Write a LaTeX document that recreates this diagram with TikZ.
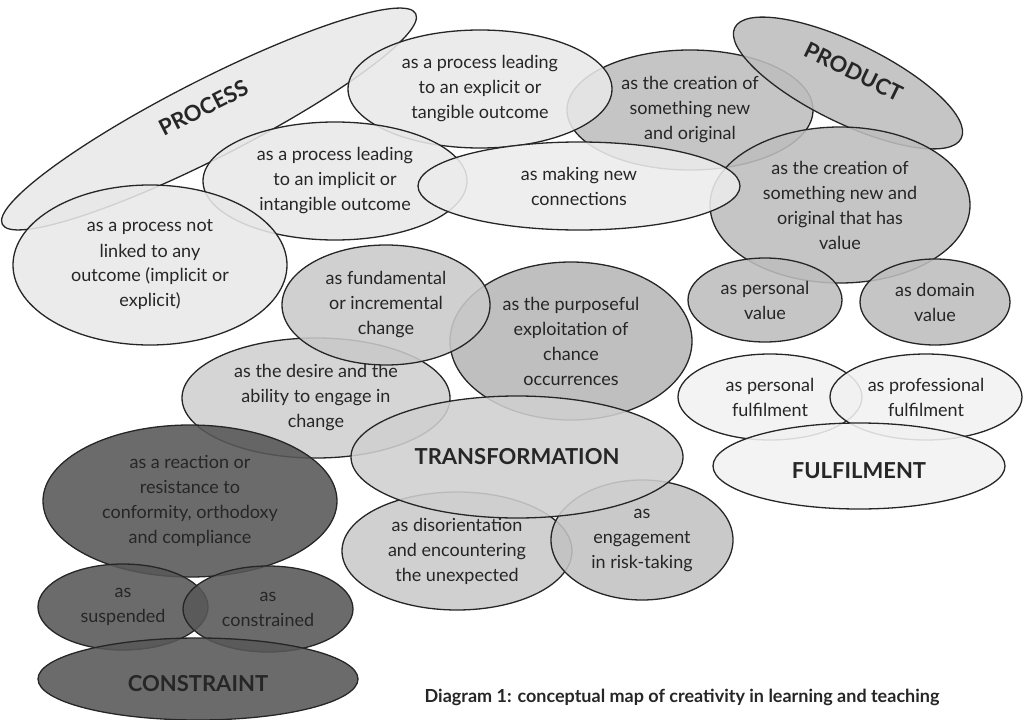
\documentclass[tikz,border=0pt]{standalone}
\usepackage{fontspec}
\setmainfont{Lato}
\usetikzlibrary{shapes.geometric}
\definecolor{processgrey}{gray}{0.91}
\definecolor{connectgrey}{gray}{0.925}
\definecolor{productgrey}{gray}{0.74}
\definecolor{valuegrey}{gray}{0.74}
\definecolor{fulfilgrey}{gray}{0.945}
\definecolor{purposegrey}{gray}{0.715}
\definecolor{changegrey}{gray}{0.79}
\definecolor{desiregrey}{gray}{0.81}
\definecolor{transgrey}{gray}{0.81}
\definecolor{riskgrey}{gray}{0.76}
\definecolor{constraintgrey}{gray}{0.34}

\tikzset{
  blob/.style={ellipse,draw=black!85,line width=1.3pt,fill opacity=0.88,text opacity=1,
    align=center,inner sep=0pt,text=black!85,font=\fontsize{18}{25}\selectfont},
  heading/.style={blob,font=\fontsize{22}{25}\selectfont\bfseries},
}

\begin{document}
\begin{tikzpicture}[x=1pt,y=-1pt]
\useasboundingbox (0,0) rectangle (1028,720);

% process and product
\node[blob,fill=productgrey,minimum width=246pt,minimum height=120pt] (neworig) at (690,110) {as the creation of\\something new\\and original};
\node[heading,fill=processgrey,minimum width=464pt,minimum height=78pt,rotate=27] (process) at (209,119) {PROCESS\\~};
\node[blob,fill=processgrey,minimum width=264pt,minimum height=118pt] (explicit) at (480,89) {as a process leading\\to an explicit or\\tangible outcome};
\node[heading,fill=productgrey,minimum width=252pt,minimum height=80pt,rotate=-26] (product) at (848,83) {PRODUCT\\~};
\node[blob,fill=productgrey,minimum width=260pt,minimum height=156pt] (hasvalue) at (840,205) {as the creation of\\something new and\\original that has\\value};
\node[blob,fill=processgrey,minimum width=264pt,minimum height=118pt] (implicit) at (335,181) {as a process leading\\to an implicit or\\intangible outcome};
\node[blob,fill=connectgrey,minimum width=322pt,minimum height=88pt] (connect) at (579,186) {as making new\\connections};
\node[blob,fill=processgrey,minimum width=274pt,minimum height=160pt] (nooutcome) at (150,265) {as a process not\\linked to any\\outcome (implicit or\\explicit)};
\node[blob,fill=valuegrey,minimum width=154pt,minimum height=84pt] (persvalue) at (765,300) {as personal\\value};
\node[blob,fill=valuegrey,minimum width=150pt,minimum height=86pt] (domvalue) at (935,302) {as domain\\value};

% transformation
\node[blob,fill=purposegrey,minimum width=242pt,minimum height=158pt] (purpose) at (571,341) {as the purposeful\\exploitation of\\chance\\occurrences};
\node[blob,fill=desiregrey,minimum width=268pt,minimum height=120pt] (desire) at (316,398) {as the desire and the\\ability to engage in\\change};
\node[blob,fill=changegrey,minimum width=208pt,minimum height=120pt] (fundamental) at (386,305) {as fundamental\\or incremental\\change};
\node[blob,fill=changegrey,minimum width=230pt,minimum height=118pt] (disorient) at (457,551) {as disorientation\\and encountering\\the unexpected};
\node[blob,fill=riskgrey,minimum width=182pt,minimum height=120pt] (risk) at (642,540) {as\\engagement\\in risk-taking};
\node[heading,fill=transgrey,minimum width=332pt,minimum height=122pt] (transform) at (517,457) {TRANSFORMATION};

% fulfilment
\node[blob,fill=fulfilgrey,minimum width=184pt,minimum height=86pt] (persfulfil) at (770,397) {as personal\\fulfilment};
\node[blob,fill=fulfilgrey,minimum width=192pt,minimum height=86pt] (proffulfil) at (926,397) {as professional\\fulfilment};
\node[heading,fill=fulfilgrey,minimum width=292pt,minimum height=86pt] (fulfil) at (859,466) {~\\FULFILMENT};

% constraint
\node[blob,fill=constraintgrey,minimum width=294pt,minimum height=152pt] (reaction) at (190,501) {as a reaction or\\resistance to\\conformity, orthodoxy\\and compliance};
\node[blob,fill=constraintgrey,minimum width=170pt,minimum height=86pt] (suspended) at (123,607) {as\\suspended};
\node[blob,fill=constraintgrey,minimum width=170pt,minimum height=86pt] (constrained) at (268,609) {as\\constrained};
\node[heading,fill=constraintgrey,minimum width=320pt,minimum height=82pt] (constraint) at (198,679) {~\\CONSTRAINT};

\node[font=\fontsize{18}{20}\selectfont\bfseries,text=black!85] (caption) at (682,697) {Diagram 1: conceptual map of creativity in learning and teaching};
\end{tikzpicture}
\end{document}
